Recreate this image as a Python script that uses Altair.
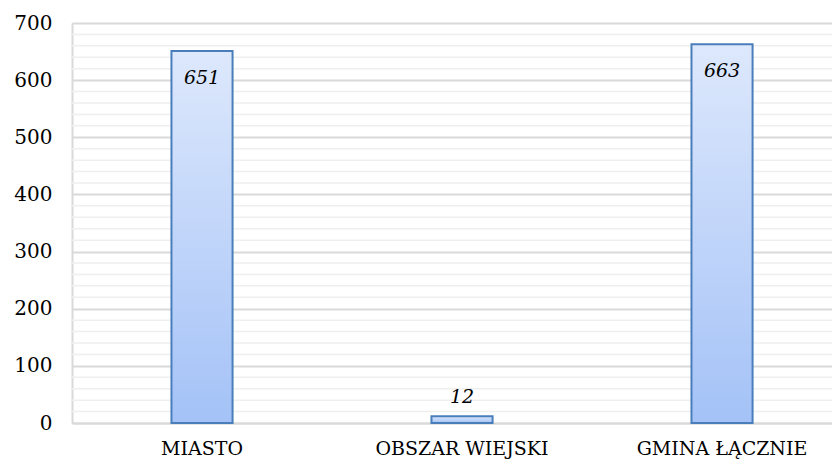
import altair as alt
import pandas as pd

categories = ["MIASTO", "OBSZAR WIEJSKI", "GMINA ŁĄCZNIE"]
values = [651, 12, 663]
major_ticks = [0, 100, 200, 300, 400, 500, 600, 700]
minor_ticks = [v for v in range(20, 700, 20) if v % 100 != 0]

df = pd.DataFrame({"cat": categories, "value": values})
minor_df = pd.DataFrame({"tick": minor_ticks})

FONT = "DejaVu Serif"
y_scale = alt.Scale(domain=[0, 700], nice=False)
y_axis = alt.Axis(values=major_ticks, labelFont=FONT, labelFontSize=20,
                  labelColor="#000000", labelPadding=20, ticks=False,
                  domainColor="#d9d9d9", domainWidth=2, grid=True,
                  gridColor="#d9d9d9", gridWidth=2)

minor = alt.Chart(minor_df).mark_rule(color="#efefef", strokeWidth=1.5).encode(
    y=alt.Y("tick:Q", scale=y_scale, axis=y_axis, title=None),
)

x_enc = alt.X(
    "cat:N", sort=categories, title=None,
    scale=alt.Scale(paddingInner=0.765, paddingOuter=0.344, align=0.556),
    axis=alt.Axis(labelAngle=0, labelFont=FONT, labelFontSize=19, labelColor="#000000",
                  labelPadding=16, ticks=False, domainColor="#d9d9d9", domainWidth=2,
                  grid=False),
)

bars = alt.Chart(df).mark_bar(
    stroke="#4a7ebb", strokeWidth=2,
    color=alt.Gradient(
        gradient="linear", x1=0, x2=0, y1=0, y2=1,
        stops=[alt.GradientStop(color="#dde8fc", offset=0),
               alt.GradientStop(color="#a4c2f7", offset=1)],
    ),
).encode(
    x=x_enc,
    y=alt.Y("value:Q", scale=y_scale, title=None, axis=y_axis),
)

lbl_in = alt.Chart(df).transform_filter("datum.value > 100").mark_text(
    font=FONT, fontSize=19, fontStyle="italic", color="#000000", dy=27, baseline="middle"
).encode(x=alt.X("cat:N", sort=categories, title=None),
         y=alt.Y("value:Q", title=None), text="value:Q")

lbl_out = alt.Chart(df).transform_filter("datum.value <= 100").mark_text(
    font=FONT, fontSize=19, fontStyle="italic", color="#000000", dy=-19, baseline="middle"
).encode(x=alt.X("cat:N", sort=categories, title=None),
         y=alt.Y("value:Q", title=None), text="value:Q")

chart = alt.layer(minor, bars, lbl_in, lbl_out).properties(
    width=760, height=400,
    autosize=alt.AutoSizeParams(type="none"),
    padding={"left": 64, "top": 15, "right": 0, "bottom": 40},
).configure_view(stroke=None).configure(background="white")

chart.save("out.html", embed_options={"renderer": "svg", "actions": False})
